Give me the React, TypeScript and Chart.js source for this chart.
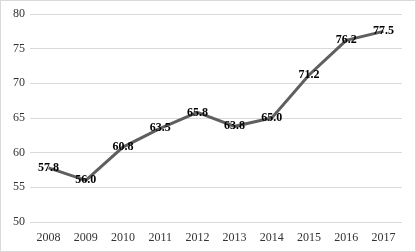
import React, { useEffect, useRef } from "react";
import { Chart, registerables } from "chart.js";

Chart.register(...registerables);

const categories = ["2008", "2009", "2010", "2011", "2012", "2013", "2014", "2015", "2016", "2017"];
const values = [57.8, 56.0, 60.8, 63.5, 65.8, 63.8, 65.0, 71.2, 76.2, 77.5];
const yTicks = [50, 55, 60, 65, 70, 75, 80];

const labelPlugin = {
  id: "pointLabels",
  afterDatasetsDraw(chart: any) {
    const ctx = chart.ctx;
    const meta = chart.getDatasetMeta(0);
    ctx.save();
    ctx.font = "bold 12px 'Liberation Serif', 'Times New Roman', serif";
    ctx.fillStyle = "#000";
    ctx.textAlign = "center";
    ctx.textBaseline = "middle";
    meta.data.forEach((pt: any, i: number) => {
      ctx.fillText(values[i].toFixed(1), pt.x, pt.y);
    });
    ctx.restore();
  },
};

export default function App() {
  const ref = useRef<HTMLCanvasElement>(null);
  useEffect(() => {
    if (!ref.current) return;
    const chart = new Chart(ref.current, {
      type: "line",
      data: {
        labels: categories,
        datasets: [
          {
            data: values,
            borderColor: "#5f5f5f",
            borderWidth: 3,
            pointRadius: 0,
            tension: 0,
            fill: false,
          },
        ],
      },
      options: {
        animation: false,
        responsive: false,
        layout: { padding: { top: 13, right: 13, left: 0, bottom: 0 } },
        plugins: { legend: { display: false }, tooltip: { enabled: false } },
        scales: {
          x: {
            offset: true,
            grid: { display: false, drawTicks: false },
            border: { display: false },
            ticks: {
              color: "#333",
              padding: 9,
              maxRotation: 0,
              font: { family: "'Liberation Serif', 'Times New Roman', serif", size: 12 },
            },
            afterFit(scale: any) {
              scale.height = 29;
            },
          },
          y: {
            min: 50,
            max: 80,
            afterBuildTicks(scale: any) {
              scale.ticks = yTicks.map((v) => ({ value: v }));
            },
            grid: { color: "#d9d9d9", lineWidth: 1, drawTicks: false },
            border: { display: false },
            ticks: {
              color: "#333",
              padding: 5,
              font: { family: "'Liberation Serif', 'Times New Roman', serif", size: 12 },
            },
            afterFit(scale: any) {
              scale.width = 29;
            },
          },
        },
      },
      plugins: [labelPlugin],
    });
    return () => chart.destroy();
  }, []);
  return (
    <div
      style={{
        position: "fixed",
        left: 0,
        top: 0,
        width: 416,
        height: 252,
        border: "1px solid #d9d9d9",
        boxSizing: "border-box",
        background: "#fff",
      }}
    >
      <canvas ref={ref} width={414} height={250} style={{ display: "block" }} />
    </div>
  );
}
